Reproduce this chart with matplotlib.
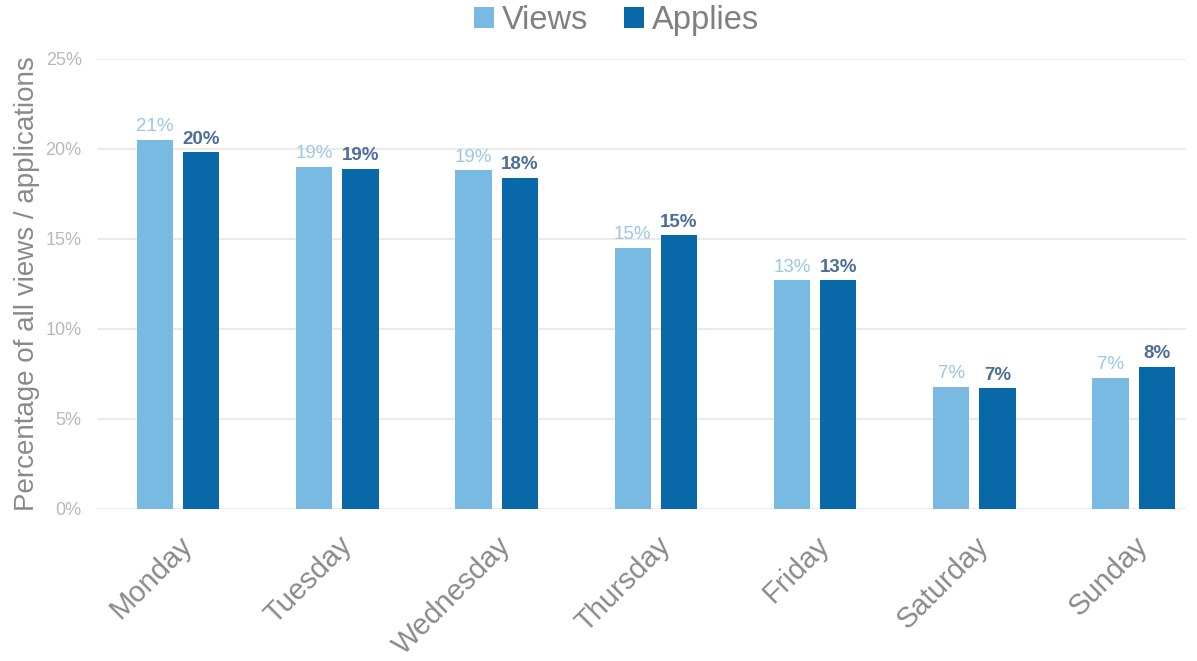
import matplotlib.pyplot as plt
import matplotlib.transforms as mtransforms
import numpy as np

days = ['Monday', 'Tuesday', 'Wednesday', 'Thursday', 'Friday', 'Saturday', 'Sunday']
views = [20.5, 19.0, 18.8, 14.5, 12.7, 6.8, 7.3]
applies = [19.8, 18.9, 18.4, 15.2, 12.7, 6.7, 7.9]
view_labels = ['21%', '19%', '19%', '15%', '13%', '7%', '7%']
apply_labels = ['20%', '19%', '18%', '15%', '13%', '7%', '8%']
yticks = [0, 5, 10, 15, 20, 25]

plt.rcParams['font.family'] = ['Liberation Sans', 'DejaVu Sans']

views_color = '#79bae3'
applies_color = '#0868a8'

fig = plt.figure(figsize=(11.97, 6.61), dpi=100)
ax = fig.add_axes([0.081, 0.23, 0.91, 0.681])

x = np.arange(len(days))
offset = 0.145
width = 0.228
bars_v = ax.bar(x - offset, views, width, color=views_color, label='Views', zorder=3)
bars_a = ax.bar(x + offset, applies, width, color=applies_color, label='Applies', zorder=3)

for bar, lab in zip(bars_v, view_labels):
    ax.text(bar.get_x() + bar.get_width() / 2, bar.get_height() + 0.25, lab,
            ha='center', va='bottom', fontsize=13.5, color='#9cc6e6')
for bar, lab in zip(bars_a, apply_labels):
    ax.text(bar.get_x() + bar.get_width() / 2, bar.get_height() + 0.25, lab,
            ha='center', va='bottom', fontsize=13.5, color='#4d6e99', fontweight='bold')

ax.set_ylim(0, 25)
ax.set_xlim(-0.51, 6.33)
ax.set_yticks(yticks)
ax.set_yticklabels([f'{t}%' for t in yticks], fontsize=13, color='#b8b8b8')
ax.set_xticks(x)
ax.set_xticklabels(days, rotation=45, ha='right', rotation_mode='anchor',
                   fontsize=21, color='#8a8a8a')
shift = mtransforms.ScaledTranslation(-7 / 100, 0, fig.dpi_scale_trans)
for lbl in ax.get_xticklabels():
    lbl.set_transform(lbl.get_transform() + shift)
ax.tick_params(axis='y', length=0, pad=11)
ax.tick_params(axis='x', length=0, pad=16)
ax.grid(axis='y', color='#e6e6e6', linewidth=1.2, zorder=0)
for s in ax.spines.values():
    s.set_visible(False)
ax.set_ylabel('Percentage of all views / applications', fontsize=20, color='#8a8a8a', labelpad=4)

ax.legend(loc='lower center', bbox_to_anchor=(0.477, 1.015), ncol=2, frameon=False,
          fontsize=23.5, handlelength=0.6, handleheight=0.6, handletextpad=0.25,
          columnspacing=1.1, labelcolor='#808080', borderaxespad=0.1)

plt.savefig('out.png', dpi=100)
